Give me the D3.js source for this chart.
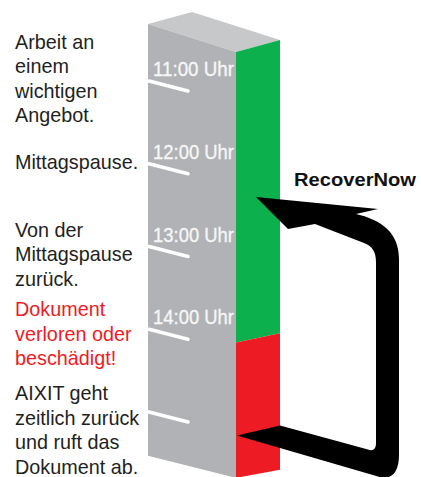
<!DOCTYPE html>
<html><head><meta charset="utf-8">
<script src="https://cdn.jsdelivr.net/npm/d3@7"></script>
<style>html,body{margin:0;padding:0;background:#fff;}svg{display:block;}</style>
</head><body>
<svg id="chart" width="421" height="477"></svg>
<script>
// ---- data ----
const tickTimes = [11, 12, 13, 14, 15];
const tickLabels = ["11:00 Uhr", "12:00 Uhr", "13:00 Uhr", "14:00 Uhr", ""];
const segmentNames = ["ok", "lost"];
const segmentStarts = [10.31, 13.87];
const segmentEnds = [13.87, 15.53];
const segmentColors = ["#0cb04c", "#ed1c24"];
const eventTimes = [10.61, 12.06, 12.88, 13.84, 14.86];
const eventTexts = [
  ["Arbeit an", "einem", "wichtigen", "Angebot."],
  ["Mittagspause."],
  ["Von der", "Mittagspause", "zurück."],
  ["Dokument", "verloren oder", "beschädigt!"],
  ["AIXIT geht", "zeitlich zurück", "und ruft das", "Dokument ab."]
];
const eventColors = ["#231f20", "#231f20", "#231f20", "#ed1c24", "#231f20"];
const recoverFrom = 15.0;
const recoverTo = 12.15;
const recoverLabel = "RecoverNow";

// ---- layout ----
const svg = d3.select("#chart");
const xL = 148, xF = 236, depthX = 44, depthY = -12;
const y = d3.scaleLinear().domain([11, 15]).range([81, 412]);
const colTop = segmentStarts[0], colBot = segmentEnds[segmentEnds.length - 1];
const yTopL = y(colTop), yBotL = y(colBot);
const drop = d3.scaleLinear().domain([yTopL, yBotL]).range([28, 22]);
const rise = d3.scaleLinear().domain([yTopL + 28, yBotL + 22]).range([12, 8]);
const yFront = t => y(t) + drop(y(t));
const xR = xF + depthX;
const line = pts => "M" + pts.map(p => p.join(",")).join("L") + "Z";

// top face
svg.append("path")
  .attr("d", line([[xL, yTopL], [xL + depthX, yTopL + depthY], [xR, yFront(colTop) + depthY], [xF, yFront(colTop)]]))
  .attr("fill", "#c7c8ca");
// grey (time) face
svg.append("path")
  .attr("d", line([[xL, yTopL], [xF, yFront(colTop)], [xF, yFront(colBot)], [xL, yBotL]]))
  .attr("fill", "#b1b2b5");
// status face segments
segmentNames.forEach((n, i) => {
  const f0 = yFront(segmentStarts[i]), f1 = yFront(segmentEnds[i]);
  svg.append("path")
    .attr("d", line([[xF, f0], [xR, f0 - rise(f0)], [xR, f1 - rise(f1)], [xF, f1]]))
    .attr("fill", segmentColors[i]);
});

// ticks
const tg = svg.append("g");
tickTimes.forEach((t, i) => {
  tg.append("line")
    .attr("x1", xL + 1).attr("y1", y(t))
    .attr("x2", xL + 40).attr("y2", y(t) + 10)
    .attr("stroke", "#fff").attr("stroke-width", 3.6).attr("stroke-linecap", "round");
  if (tickLabels[i]) {
    tg.append("text")
      .attr("x", xL + 5).attr("y", y(t) - 5)
      .attr("font-family", "'Liberation Sans', Arial, sans-serif")
      .attr("font-size", 21)
      .attr("textLength", 81).attr("lengthAdjust", "spacingAndGlyphs")
      .attr("fill", "#f6f6f7")
      .attr("stroke", "#f6f6f7").attr("stroke-width", 0.35)
      .text(tickLabels[i]);
  }
});

// events text
eventTimes.forEach((t, i) => {
  const txt = svg.append("text")
    .attr("x", 15).attr("y", y(t))
    .attr("font-family", "'Liberation Sans', Arial, sans-serif")
    .attr("font-size", 19.8)
    .attr("fill", eventColors[i]);
  eventTexts[i].forEach((s, j) => {
    txt.append("tspan").attr("x", 15).attr("y", y(t) + j * 24.5).text(s);
  });
});

// RecoverNow arrow
const T = [xF + 20, yFront(recoverTo) - 5];
const B = [xF + 1, yFront(recoverFrom) + 1];
const oR = 399, iR = 376;
const P = (p, dx, dy) => (p[0] + dx) + "," + (p[1] + dy);
const arrowD = [
  "M", P(T, 0, 0),
  "L", P(T, 122, 12),
  "L", P(T, 100, 17),
  "C", P(T, 126, 23), oR + "," + (T[1] + 36), oR + "," + (T[1] + 62),
  "L", oR + "," + (B[1] + 19),
  "C", oR + "," + (B[1] + 37), (oR - 7) + "," + (B[1] + 45), (oR - 21) + "," + (B[1] + 41),
  "L", P(B, 0, 0),
  "L", P(B, 43, -10),
  "L", P(B, 131, 14),
  "C", P(B, 137, 16), iR + "," + (B[1] + 13), iR + "," + (B[1] + 7),
  "L", iR + "," + (T[1] + 66),
  "C", iR + "," + (T[1] + 54), (iR - 4) + "," + (T[1] + 49), (iR - 12) + "," + (T[1] + 46),
  "L", P(T, 59, 27),
  "L", P(T, 32, 32),
  "Z"
].join(" ");
svg.append("path").attr("d", arrowD).attr("fill", "#000");

svg.append("text")
  .attr("x", 294).attr("y", T[1] - 11)
  .attr("font-family", "'Liberation Sans', Arial, sans-serif")
  .attr("font-weight", "bold")
  .attr("font-size", 19)
  .attr("textLength", 122).attr("lengthAdjust", "spacingAndGlyphs")
  .attr("fill", "#111")
  .text(recoverLabel);
</script>
</body></html>
